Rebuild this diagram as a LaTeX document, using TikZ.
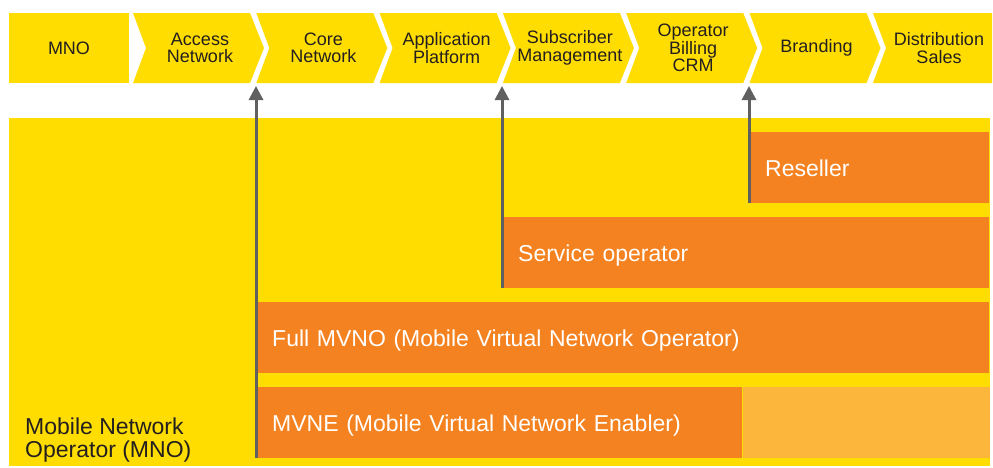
\documentclass[tikz,border=0pt]{standalone}
\usepackage{fontspec}
\setmainfont{Liberation Sans}
\usetikzlibrary{arrows.meta}
\definecolor{mnoyellow}{RGB}{255,221,0}
\definecolor{mvnoorange}{RGB}{245,130,32}
\definecolor{spareorange}{RGB}{253,182,60}
\definecolor{arrowgray}{RGB}{96,96,96}
\definecolor{textdark}{RGB}{35,31,32}

\begin{document}
\begin{tikzpicture}[x=1pt, y=-1pt,
		stage/.style={text=textdark, align=center, inner sep=0, font=\fontsize{18}{17.5}\selectfont},
		bar/.style={rectangle, fill=mvnoorange, anchor=north west, minimum height=71, text height=44, text depth=27, inner xsep=16, inner ysep=0, text=white, align=left, font=\fontsize{23}{22.5}\selectfont},
		uparrow/.style={draw=arrowgray, line width=3pt, -{Triangle[width=14pt, length=14pt]}}]
		\useasboundingbox (0,0) rectangle (993,467);
		% value chain
		\fill[mnoyellow] (9,13) rectangle (129,83);
		\node[stage] (mno) at (69,48) {MNO};
		\foreach \name/\txt [count=\i] in {access/{Access\\Network}, core/{Core\\Network}, application/{Application\\Platform}, subscriber/{Subscriber\\Management}, billing/{Operator\\Billing\\CRM}, branding/{Branding}} {
			\pgfmathsetmacro\l{133+123.3*(\i-1)}
			\fill[mnoyellow] (\l,13) -- ++(117,0) -- ++(14,35) -- ++(-14,35) -- ++(-117,0) -- ++(13,-35) -- cycle;
			\node[stage] (\name) at (\l+67,48) {\txt};
		}
		\fill[mnoyellow] (873,13) -- (992,13) -- (992,83) -- (873,83) -- (886,48) -- cycle;
		\node[stage] (distribution) at (939,48) {Distribution\\Sales};
		% operator models
		\node[fill=mnoyellow, anchor=north west, minimum width=981, minimum height=348, inner sep=0] (mnoarea) at (9,118) {};
		\node[anchor=south west, align=left, inner sep=0, text=textdark, font=\fontsize{23}{22.5}\selectfont] (mnolabel) at (25,462) {Mobile Network\\Operator (MNO)};
		\node[bar, text width=240-32] (reseller) at (749,132) {Reseller};
		\node[bar, text width=487-32] (service) at (502,217) {Service operator};
		\node[bar, text width=733-32] (fullmvno) at (256,302) {Full MVNO (Mobile Virtual Network Operator)};
		\node[bar, text width=486-32] (mvne) at (256,387) {MVNE (Mobile Virtual Network Enabler)};
		\node[fill=spareorange, anchor=north west, minimum width=247, minimum height=71, inner sep=0] (mvnespare) at (mvne.north east) {};
		% entry points
		\coordinate (tipcore) at (256,86);
		\coordinate (tipsubscriber) at (502,86);
		\coordinate (tipbranding) at (749,86);
		\draw[uparrow] (mvne.south west) -- (tipcore);
		\draw[uparrow] (service.south west) -- (tipsubscriber);
		\draw[uparrow] (reseller.south west) -- (tipbranding);
	\end{tikzpicture}
\end{document}
